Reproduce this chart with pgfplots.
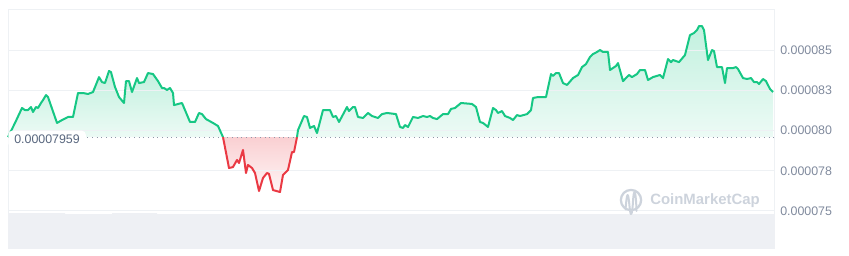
\documentclass[border=0pt]{standalone}
\usepackage{pgfplots}
\pgfplotsset{compat=1.18}
\usepackage{fontspec}
\setmainfont{Liberation Sans}
\definecolor{cmcgreen}{HTML}{16C784}
\definecolor{cmcred}{HTML}{EA3943}
\definecolor{gridc}{HTML}{EEF1F4}
\definecolor{volc}{HTML}{EEF0F4}
\definecolor{tickc}{HTML}{808A9D}
\definecolor{basec}{HTML}{58667E}
\definecolor{wmc}{HTML}{CDD3DC}
\definecolor{dotc}{HTML}{8F98A8}
\begin{document}
\begin{tikzpicture}
\useasboundingbox (-6pt,-5.25pt) rectangle (630.75pt,186pt);
\begin{axis}[
  at={(0,0)}, anchor=south west,
  scale only axis, width=574.5pt, height=179.25pt,
  xmin=8, xmax=774, ymin=72.70, ymax=87.55,
  xtick=\empty,
  ytick={75,77.5,80,82.5,85},
  yticklabels={0.000075,0.000078,0.000080,0.000083,0.000085},
  yticklabel pos=right,
  major tick length=0pt,
  tick style={draw=none},
  yticklabel style={anchor=west, inner sep=0pt, xshift=4.5pt, text=tickc, font=\fontsize{9.3}{11}\selectfont},
  axis line style={draw=gridc, line width=0.75pt},
  clip=false,
]
% volume band
\addplot[fill=volc, draw=none] coordinates {(8,72.70) (8,74.87) (65,74.87) (65,74.80) (112,74.80) (112,74.87) (157,74.87) (157,74.80) (774,74.80) (774,72.70)} -- cycle;

% fills
\addplot[draw=none, top color=cmcgreen!26, bottom color=cmcgreen!8] coordinates {
(8,79.59) (15,80.47) (22,81.40) (25,81.27) (28,81.27) (31,81.46) (33,81.15) (36,81.46) (38,81.40) (41,81.71) (43,81.89) (46,82.20) (48,82.08) (57,80.47) (62,80.65) (68,80.84) (73,80.84) (78,82.33) (83,82.33) (88,82.27) (93,82.39) (99,83.32) (102,83.01) (105,82.95) (109,83.70) (111,83.63) (115,82.70) (119,82.08) (124,81.71) (126,83.07) (129,83.07) (132,82.39) (137,83.26) (139,82.95) (144,83.01) (148,83.57) (153,83.51) (158,83.07) (162,82.64) (164,82.64) (167,82.52) (170,82.64) (173,82.33) (174,81.58) (182,81.71) (185,81.27) (190,80.53) (195,80.53) (199,81.09) (202,81.02) (206,80.71) (213,80.47) (218,80.28) (223,79.59)
} -- cycle;
\addplot[draw=none, top color=cmcred!24, bottom color=cmcred!5] coordinates {
(223,79.59) (229,77.67) (233,77.73) (237,78.17) (239,77.98) (243,78.79) (246,77.36) (248,77.86) (252,77.67) (255,77.36) (259,76.24) (263,77.05) (267,77.36) (269,77.30) (273,76.30) (280,76.18) (283,77.24) (288,77.55) (292,78.66) (294,78.66) (297,79.59)
} -- cycle;
\addplot[draw=none, top color=cmcgreen!26, bottom color=cmcgreen!8] coordinates {
(297,79.59) (298,80.03) (304,80.90) (307,80.84) (310,80.16) (314,80.28) (317,79.84) (323,81.27) (330,81.27) (333,80.84) (336,80.90) (339,80.53) (347,81.46) (349,81.21) (353,81.46) (355,81.46) (358,80.84) (363,80.78) (368,81.09) (372,80.90) (378,80.78) (382,81.02) (387,81.09) (396,81.02) (400,80.22) (403,80.16) (405,80.34) (408,80.22) (413,80.84) (418,80.78) (423,80.90) (427,80.84) (430,80.90) (433,80.78) (437,80.71) (443,81.02) (448,81.02) (451,81.34) (455,81.40) (461,81.71) (472,81.65) (476,81.46) (480,80.53) (483,80.47) (488,80.22) (493,81.40) (496,81.27) (498,81.09) (502,81.21) (505,80.90) (510,80.78) (513,80.65) (517,80.96) (520,80.90) (527,81.02) (531,81.27) (533,82.02) (538,82.08) (546,82.08) (551,83.51) (553,83.39) (556,83.57) (559,83.57) (563,82.95) (567,82.83) (573,83.26) (578,83.45) (582,83.94) (586,84.13) (590,84.57) (593,84.75) (597,84.88) (600,85.00) (603,84.88) (608,84.88) (610,83.76) (616,84.01) (618,84.19) (623,83.07) (629,83.45) (632,83.32) (637,83.51) (640,83.76) (645,83.76) (648,83.14) (653,83.32) (660,83.45) (663,83.26) (668,84.44) (671,84.25) (673,84.38) (679,84.25) (685,84.69) (690,85.93) (694,86.06) (697,86.24) (699,86.49) (702,86.49) (704,86.24) (708,84.38) (712,85.00) (714,84.94) (717,83.94) (722,83.94) (725,82.95) (727,83.88) (733,83.88) (736,83.94) (738,83.82) (743,83.26) (747,83.20) (751,83.26) (754,83.01) (757,83.01) (759,82.89) (763,83.20) (766,83.07) (770,82.58) (773,82.39) (773,79.59)
} -- cycle;

% grid lines over the fills
\addplot[gridc, line width=0.75pt] coordinates {(8,75) (774,75)};
\addplot[gridc, line width=0.75pt] coordinates {(8,77.5) (774,77.5)};
\addplot[gridc, line width=0.75pt] coordinates {(8,80) (774,80)};
\addplot[gridc, line width=0.75pt] coordinates {(8,82.5) (774,82.5)};
\addplot[gridc, line width=0.75pt] coordinates {(8,85) (774,85)};

% baseline dotted
\addplot[dotc, line width=0.8pt, dash pattern=on 0.8pt off 2.7pt] coordinates {(8,79.59) (774,79.59)};

% price line
\addplot[cmcgreen, line width=1.5pt, line join=round] coordinates {
(8,79.59) (15,80.47) (22,81.40) (25,81.27) (28,81.27) (31,81.46) (33,81.15) (36,81.46) (38,81.40) (41,81.71) (43,81.89) (46,82.20) (48,82.08) (57,80.47) (62,80.65) (68,80.84) (73,80.84) (78,82.33) (83,82.33) (88,82.27) (93,82.39) (99,83.32) (102,83.01) (105,82.95) (109,83.70) (111,83.63) (115,82.70) (119,82.08) (124,81.71) (126,83.07) (129,83.07) (132,82.39) (137,83.26) (139,82.95) (144,83.01) (148,83.57) (153,83.51) (158,83.07) (162,82.64) (164,82.64) (167,82.52) (170,82.64) (173,82.33) (174,81.58) (182,81.71) (185,81.27) (190,80.53) (195,80.53) (199,81.09) (202,81.02) (206,80.71) (213,80.47) (218,80.28) (223,79.59)
};
\addplot[cmcred, line width=1.5pt, line join=round] coordinates {
(223,79.59) (229,77.67) (233,77.73) (237,78.17) (239,77.98) (243,78.79) (246,77.36) (248,77.86) (252,77.67) (255,77.36) (259,76.24) (263,77.05) (267,77.36) (269,77.30) (273,76.30) (280,76.18) (283,77.24) (288,77.55) (292,78.66) (294,78.66) (297,79.59)
};
\addplot[cmcgreen, line width=1.5pt, line join=round] coordinates {
(297,79.59) (298,80.03) (304,80.90) (307,80.84) (310,80.16) (314,80.28) (317,79.84) (323,81.27) (330,81.27) (333,80.84) (336,80.90) (339,80.53) (347,81.46) (349,81.21) (353,81.46) (355,81.46) (358,80.84) (363,80.78) (368,81.09) (372,80.90) (378,80.78) (382,81.02) (387,81.09) (396,81.02) (400,80.22) (403,80.16) (405,80.34) (408,80.22) (413,80.84) (418,80.78) (423,80.90) (427,80.84) (430,80.90) (433,80.78) (437,80.71) (443,81.02) (448,81.02) (451,81.34) (455,81.40) (461,81.71) (472,81.65) (476,81.46) (480,80.53) (483,80.47) (488,80.22) (493,81.40) (496,81.27) (498,81.09) (502,81.21) (505,80.90) (510,80.78) (513,80.65) (517,80.96) (520,80.90) (527,81.02) (531,81.27) (533,82.02) (538,82.08) (546,82.08) (551,83.51) (553,83.39) (556,83.57) (559,83.57) (563,82.95) (567,82.83) (573,83.26) (578,83.45) (582,83.94) (586,84.13) (590,84.57) (593,84.75) (597,84.88) (600,85.00) (603,84.88) (608,84.88) (610,83.76) (616,84.01) (618,84.19) (623,83.07) (629,83.45) (632,83.32) (637,83.51) (640,83.76) (645,83.76) (648,83.14) (653,83.32) (660,83.45) (663,83.26) (668,84.44) (671,84.25) (673,84.38) (679,84.25) (685,84.69) (690,85.93) (694,86.06) (697,86.24) (699,86.49) (702,86.49) (704,86.24) (708,84.38) (712,85.00) (714,84.94) (717,83.94) (722,83.94) (725,82.95) (727,83.88) (733,83.88) (736,83.94) (738,83.82) (743,83.26) (747,83.20) (751,83.26) (754,83.01) (757,83.01) (759,82.89) (763,83.20) (766,83.07) (770,82.58) (773,82.39)
};

% baseline label
\node[anchor=west, fill=white, rounded corners=3pt, inner xsep=4.5pt, inner ysep=3pt, text=basec, font=\fontsize{9.3}{11}\selectfont] at (axis cs:8,79.47) {0.00007959};

% watermark
\draw[wmc, line width=1.7pt] (axis cs:631,75.68) circle[radius=7.6pt];
\draw[wmc, line width=1.5pt, line cap=round, line join=round] (axis cs:625.5,75.10) .. controls (axis cs:627,76.2) and (axis cs:628,76.3) .. (axis cs:629.5,75.3) .. controls (axis cs:630.5,74.6) and (axis cs:632,74.6) .. (axis cs:633,75.6) .. controls (axis cs:634,76.6) and (axis cs:636,76.2) .. (axis cs:636.5,75.0);
\node[anchor=west, inner sep=0pt, text=wmc, font=\fontsize{11.2}{13}\selectfont\bfseries] at (axis cs:650,75.62) {CoinMarketCap};
\end{axis}
\end{tikzpicture}
\end{document}
